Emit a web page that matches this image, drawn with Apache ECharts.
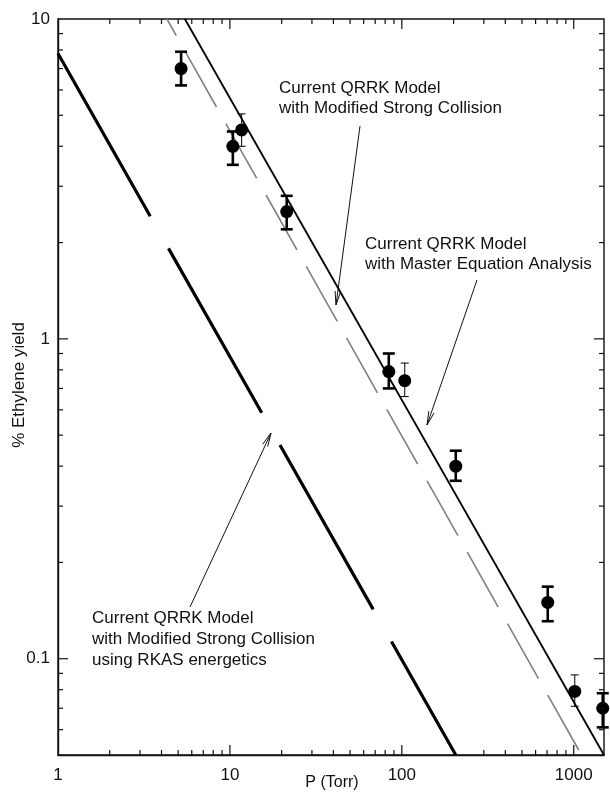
<!DOCTYPE html>
<html>
<head>
<meta charset="utf-8">
<script src="https://cdn.jsdelivr.net/npm/echarts@6/dist/echarts.min.js"></script>
<style>
  html, body { margin: 0; padding: 0; background: #fff; }
  #chart { width: 610px; height: 802px; }
</style>
</head>
<body>
<div id="chart"></div>
<script>
// Measured ethylene yield (%) versus pressure (Torr), with error bars
const pressure = [5.2, 10.4, 11.7, 21.4, 84, 104, 206, 706, 1014, 1475];
const yieldPct = [7.0, 4.0, 4.5, 2.5, 0.79, 0.74, 0.40, 0.150, 0.079, 0.070];
const errLow   = [6.2, 3.5, 4.0, 2.2, 0.70, 0.66, 0.36, 0.131, 0.071, 0.061];
const errHigh  = [7.9, 4.45, 5.05, 2.8, 0.90, 0.84, 0.447, 0.168, 0.089, 0.078];

// Model curves (straight lines in log-log space), given as end points [P, yield]
const masterEqLine   = [[5.47, 10], [1500, 0.05]];
const strongCollLine = [[4.3, 10], [1110, 0.05]];
const rkasLine       = [[1, 7.8], [206, 0.05]];

// Axis ranges and labelled decades
const xRange = [1, 1500];
const yRange = [0.05, 10];
const xTickLabels = ['1', '10', '100', '1000'];
const yTickLabels = ['0.1', '1', '10'];
const xMinorTicks = [2, 3, 4, 5, 6, 7, 8, 9, 20, 30, 40, 50, 60, 70, 80, 90, 200, 300, 400, 500, 600, 700, 800, 900];
const xMajorTicks = [10, 100, 1000];
const yMinorTicks = [0.06, 0.07, 0.08, 0.09, 0.2, 0.3, 0.4, 0.5, 0.6, 0.7, 0.8, 0.9, 2, 3, 4, 5, 6, 7, 8, 9];
const yMajorTicks = [0.1, 1];

const FONT = '"Liberation Sans", Arial, Helvetica, sans-serif';
const INK = '#111';

const chart = echarts.init(document.getElementById('chart'), null, { renderer: 'canvas' });

function isDecade(v) {
  const l = Math.log10(v);
  return Math.abs(l - Math.round(l)) < 1e-6;
}
function decadeLabel(v, labels) {
  if (!isDecade(v)) return '';
  const s = String(Math.round(v * 1000) / 1000);
  return labels.indexOf(s) >= 0 ? s : '';
}

// inward tick marks on all four sides of the frame
function xTickItem(params, api) {
  const cs = params.coordSys;
  const px = api.coord([api.value(0), 1])[0];
  const len = api.value(2) ? 10 : 5;
  const bottom = cs.y + cs.height, top = cs.y;
  const st = { stroke: INK, lineWidth: 1.2 };
  return { type: 'group', children: [
    { type: 'line', shape: { x1: px, y1: bottom, x2: px, y2: bottom - len }, style: st },
    { type: 'line', shape: { x1: px, y1: top, x2: px, y2: top + len }, style: st }
  ]};
}
function yTickItem(params, api) {
  const cs = params.coordSys;
  const py = api.coord([1, api.value(1)])[1];
  const len = api.value(2) ? 10 : 5;
  const left = cs.x, right = cs.x + cs.width;
  const st = { stroke: INK, lineWidth: 1.2 };
  return { type: 'group', children: [
    { type: 'line', shape: { x1: left, y1: py, x2: left + len, y2: py }, style: st },
    { type: 'line', shape: { x1: right, y1: py, x2: right - len, y2: py }, style: st }
  ]};
}

// error bars: vertical whisker with caps; some bars are drawn thin
const thinBarIndex = new Set([2, 5, 8]);
function errorBarItem(params, api) {
  const x = api.value(0);
  const lo = api.coord([x, api.value(1)]);
  const hi = api.coord([x, api.value(2)]);
  const thin = thinBarIndex.has(params.dataIndex);
  const w = thin ? 4 : 6;
  const st = { stroke: '#000', lineWidth: thin ? 1 : 2.6 };
  return { type: 'group', children: [
    { type: 'line', shape: { x1: lo[0], y1: lo[1], x2: hi[0], y2: hi[1] }, style: st },
    { type: 'line', shape: { x1: lo[0] - w, y1: lo[1], x2: lo[0] + w, y2: lo[1] }, style: st },
    { type: 'line', shape: { x1: hi[0] - w, y1: hi[1], x2: hi[0] + w, y2: hi[1] }, style: st }
  ]};
}

// open-headed annotation arrow from (x1,y1) to tip (x2,y2)
function arrow(x1, y1, x2, y2) {
  const a = Math.atan2(y2 - y1, x2 - x1);
  const hl = 14, ha = 0.2;
  const st = { stroke: INK, lineWidth: 1 };
  return { type: 'group', children: [
    { type: 'line', shape: { x1, y1, x2, y2 }, style: st },
    { type: 'line', shape: { x1: x2, y1: y2, x2: x2 - hl * Math.cos(a - ha), y2: y2 - hl * Math.sin(a - ha) }, style: st },
    { type: 'line', shape: { x1: x2, y1: y2, x2: x2 - hl * Math.cos(a + ha), y2: y2 - hl * Math.sin(a + ha) }, style: st }
  ]};
}
function label(x, y, text) {
  return { type: 'text', x, y, style: { text, font: '17px ' + FONT, fill: INK, verticalAlign: 'middle', align: 'left' } };
}

const option = {
  backgroundColor: '#fff',
  animation: false,
  grid: { left: 58, right: 6, top: 19, bottom: 47, show: true, borderColor: INK, borderWidth: 1.4, backgroundColor: 'transparent' },
  xAxis: {
    type: 'log', logBase: 10, min: xRange[0], max: xRange[1],
    axisLine: { show: true, lineStyle: { color: INK, width: 1.4 } },
    axisTick: { show: false },
    splitLine: { show: false },
    axisLabel: {
      color: INK, fontSize: 17, fontFamily: FONT, margin: 12,
      showMaxLabel: false,
      formatter: v => decadeLabel(v, xTickLabels)
    }
  },
  yAxis: {
    type: 'log', logBase: 10, min: yRange[0], max: yRange[1],
    axisLine: { show: true, lineStyle: { color: INK, width: 1.4 } },
    axisTick: { show: false },
    splitLine: { show: false },
    axisLabel: {
      color: INK, fontSize: 17, fontFamily: FONT, margin: 8,
      showMinLabel: false,
      formatter: v => decadeLabel(v, yTickLabels)
    }
  },
  series: [
    {
      type: 'line', data: rkasLine, symbol: 'none', z: 2, clip: true,
      lineStyle: { color: '#000', width: 3.2, type: [189, 37], dashOffset: 2, cap: 'butt' }
    },
    {
      type: 'line', data: strongCollLine, symbol: 'none', z: 2, clip: true,
      lineStyle: { color: '#808080', width: 1.6, type: [63, 19], dashOffset: 44, cap: 'butt' }
    },
    {
      type: 'line', data: masterEqLine, symbol: 'none', z: 3, clip: true,
      lineStyle: { color: '#000', width: 1.8, type: 'solid' }
    },
    {
      type: 'custom', renderItem: errorBarItem, z: 4, clip: false,
      data: pressure.map((p, i) => [p, errLow[i], errHigh[i]])
    },
    {
      type: 'scatter', symbol: 'circle', symbolSize: 13, z: 5,
      itemStyle: { color: '#000', opacity: 1 },
      data: pressure.map((p, i) => [p, yieldPct[i]])
    },
    {
      type: 'custom', renderItem: xTickItem, z: 6, clip: false, silent: true,
      data: xMinorTicks.map(v => [v, 1, 0]).concat(xMajorTicks.map(v => [v, 1, 1]))
    },
    {
      type: 'custom', renderItem: yTickItem, z: 6, clip: false, silent: true,
      data: yMinorTicks.map(v => [1, v, 0]).concat(yMajorTicks.map(v => [1, v, 1]))
    }
  ],
  graphic: [
    label(279, 88, 'Current QRRK Model'),
    label(279, 108, 'with Modified Strong Collision'),
    arrow(360, 126, 336, 305),
    label(365, 244, 'Current QRRK Model'),
    label(365, 264, 'with Master Equation Analysis'),
    arrow(477, 280, 427, 425),
    label(92, 618, 'Current QRRK Model'),
    label(92, 639, 'with Modified Strong Collision'),
    label(92, 660, 'using RKAS energetics'),
    arrow(190, 607, 271, 433),
    { type: 'text', x: 332, y: 783, style: { text: 'P (Torr)', font: '16px ' + FONT, fill: INK, align: 'center', verticalAlign: 'middle' } },
    { type: 'text', x: 19, y: 385, rotation: Math.PI / 2, style: { text: '% Ethylene yield', font: '17px ' + FONT, fill: INK, align: 'center', verticalAlign: 'middle' } }
  ]
};

chart.setOption(option);
</script>
</body>
</html>
